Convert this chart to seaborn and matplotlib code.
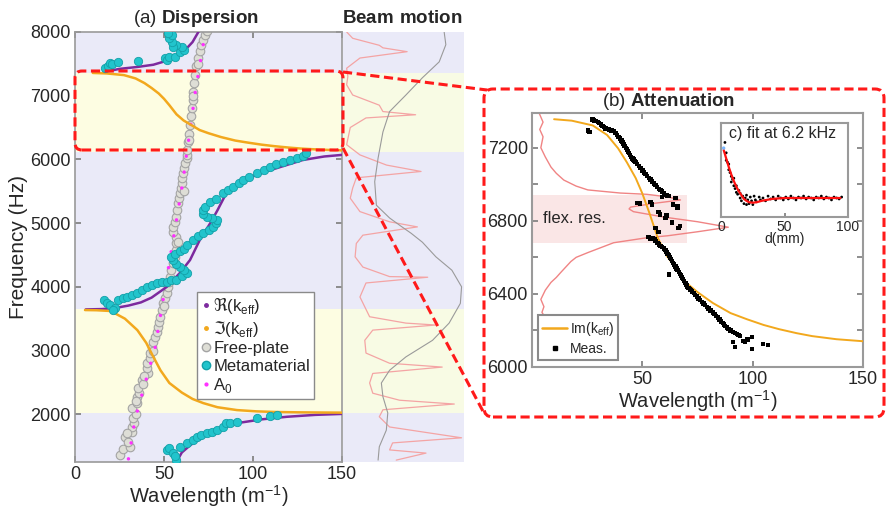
import matplotlib
matplotlib.use('Agg')
import matplotlib.pyplot as plt
from matplotlib.patches import FancyBboxPatch
from matplotlib.lines import Line2D
import seaborn as sns

######### data ########################################################################
# (a) dispersion: real part of k_eff (three branches)
re_lo_k = [57, 60, 65, 72, 80, 91, 105, 119, 135, 150]
re_lo_f = [1250, 1400, 1520, 1640, 1760, 1860, 1920, 1960, 1990, 2005]
re_mid_k = [6, 15, 22, 30, 37, 43, 51.6, 59, 64.6, 70, 76, 80, 85, 94.6, 109.6, 128, 140, 150]
re_mid_f = [3645, 3650, 3665, 3705, 3755, 3830, 4000, 4220, 4420, 4730, 5000, 5200, 5470, 5680, 5830, 5990, 6045, 6070]
re_hi_k = [16, 25, 35, 44, 53, 61, 66, 69, 70.5]
re_hi_f = [7370, 7420, 7450, 7485, 7560, 7690, 7840, 7985, 8060]

# imaginary part of k_eff (two band gaps)
im_lo_k = [5.6, 12, 20, 28, 35, 40, 44, 48, 53, 60, 66, 72, 80, 91, 102, 113, 125, 138, 150]
im_lo_f = [3635, 3632, 3620, 3500, 3320, 3120, 2900, 2690, 2490, 2340, 2240, 2175, 2110, 2065, 2045, 2035, 2030, 2027, 2025]
im_hi_k = [10, 18, 27.5, 34, 39, 43, 47, 50, 53, 57, 61, 65, 70, 75, 82, 90, 97.5, 105, 112, 120, 127, 138, 150]
im_hi_f = [7356, 7348, 7322, 7270, 7197, 7120, 7034, 6950, 6850, 6707, 6610, 6544, 6460, 6410,
           6350, 6295, 6261, 6230, 6207, 6185, 6169, 6152, 6141]

# A0 mode of the bare plate
a0_k = [30, 31.5, 33, 35, 37.5, 40, 42.5, 45, 46.5, 48, 49.5, 51, 52.5, 54, 55.5, 57, 58.5,
        60, 61.3, 62.5, 63.8, 65, 66.3, 67.5, 69, 70.5, 72]
a0_f = [1300, 1550, 1800, 2050, 2300, 2550, 2800, 3050, 3300, 3550, 3800, 4050, 4300, 4550,
        4800, 5050, 5300, 5550, 5800, 6050, 6300, 6550, 6800, 7050, 7300, 7550, 7800]

# measured free plate
fp_k = [25.3, 27, 31, 28, 30, 32, 32, 33, 32.6, 34, 32, 35, 35, 36, 35.5, 37.6, 38, 41, 40.4,
        40.4, 42, 42, 43, 44, 45, 46, 46.8, 47, 47.8, 48.9, 49.6, 50.5, 51.6, 52, 53, 53.4, 54,
        55, 56, 57, 56.5, 57, 55, 55, 56, 57, 57.5, 58, 58.5, 59, 59.5, 60, 60.3, 60.7, 61, 61.8,
        62.7, 62.7, 63, 63.5, 64, 64.6, 65, 65.7, 66, 66.3, 67, 67.4, 68, 69, 70, 71, 72, 73, 74,
        29, 34, 39, 44, 50, 58, 61, 64, 66, 69]
fp_f = [1360, 1450, 1490, 1640, 1560, 1720, 1800, 1870, 1940, 2000, 2090, 2180, 2270, 2340,
        2410, 2535, 2470, 2640, 2720, 2800, 2880, 2960, 3055, 3130, 3210, 3290, 3370, 3450,
        3530, 3635, 3745, 3820, 3900, 4000, 4080, 4150, 4260, 4370, 4470, 4580, 4680, 4780,
        4860, 4940, 5020, 5100, 5200, 5310, 5390, 5470, 5550, 5630, 5710, 5790, 5860, 5940,
        6020, 6070, 6150, 6270, 6400, 6540, 6680, 6810, 6930, 7060, 7200, 7330, 7460, 7590,
        7700, 7800, 7880, 7950, 8020,
        1700, 2200, 2600, 3000, 3700, 4700, 5500, 6300, 7000, 7500]

# measured metamaterial
mm_k = [51.6, 53, 55, 57, 56, 59, 62.7, 66, 68.5, 71, 74, 77, 80, 83, 85, 87, 91, 102, 109.6, 113.4,
        16, 18, 19.7, 22.5, 21.5, 24, 27, 29, 32, 34.8, 37.5, 40.4, 43, 46, 49, 51.6, 54, 57, 60,
        62.7, 61, 59, 57, 55, 54, 56, 59, 61, 63, 66, 69, 72, 75, 77.5, 79, 80, 77, 74, 72, 72,
        73, 76, 79, 83, 86, 88.8, 92, 94.6, 98, 102, 106, 109.6, 113, 117, 121, 124.7, 128, 130,
        16.9, 18.5, 19.7, 21, 24.4, 35.5, 50.6, 51.5, 53, 56, 59, 61, 60, 57, 55, 54.3, 53, 54.5, 52]
mm_f = [1440, 1470, 1390, 1280, 1350, 1490, 1550, 1600, 1640, 1670, 1700, 1720, 1750, 1800, 1860,
        1870, 1880, 1940, 1970, 1985,
        3790, 3740, 3710, 3665, 3635, 3800, 3820, 3840, 3870, 3900, 3950, 4000, 4030, 4060, 4070,
        4080, 4100, 4110, 4170, 4220, 4260, 4310, 4360, 4420, 4470, 4520, 4560, 4600, 4660, 4730,
        4790, 4840, 4890, 4940, 5000, 5050, 5080, 5100, 5150, 5200, 5260, 5330, 5380, 5470, 5520,
        5570, 5630, 5680, 5730, 5790, 5840, 5880, 5920, 5960, 5990, 6020, 6060, 6100,
        7435, 7460, 7510, 7490, 7530, 7545, 7590, 7560, 7610, 7610, 7690, 7720, 7760, 7800, 7765,
        7845, 7900, 7950, 7985]

# beam motion (normalised amplitude 0..1)
beam_grey_x = [0.836, 0.85, 0.795, 0.656, 0.52, 0.385, 0.33, 0.29, 0.262, 0.276, 0.385, 0.48,
               0.563, 0.656, 0.768, 0.9, 0.98, 0.97, 0.877, 0.74, 0.52, 0.385, 0.317, 0.33, 0.37,
               0.358, 0.3, 0.29]
beam_grey_f = [8000, 7800, 7530, 7280, 7010, 6750, 6430, 6020, 5650, 5280, 5080, 4950, 4840, 4700,
               4470, 4260, 4000, 3740, 3430, 3160, 2900, 2690, 2490, 2275, 2020, 1750, 1490, 1280]
beam_red_x = [0.03, 0.08, 0.3, 0.33, 0.53, 0.14, 0.03, 0.04, 0.03, 0.08, 0.3, 0.33, 0.6, 0.19,
              0.06, 0.03, 0.14, 0.36, 0.645, 0.11, 0.08, 0.06, 0.14, 0.385, 0.615, 0.164, 0.11,
              0.1, 0.164, 0.385, 0.7, 0.19, 0.14, 0.22, 0.52, 0.768, 0.246, 0.18, 0.19, 0.385,
              0.82, 0.246, 0.22, 0.246, 0.467, 0.92, 0.33, 0.3, 0.385, 0.98, 0.41, 0.385, 0.686,
              0.44]
beam_red_f = [8000, 7900, 7790, 7750, 7690, 7590, 7430, 7300, 7170, 7010, 6850, 6750, 6700, 6650,
              6500, 6230, 6070, 5910, 5810, 5710, 5550, 5390, 5180, 5020, 4940, 4810, 4680, 4470,
              4310, 4160, 4150, 4060, 3840, 3530, 3430, 3400, 3320, 3160, 2960, 2800, 2740, 2640,
              2490, 2330, 2220, 2160, 2070, 1960, 1800, 1630, 1550, 1440, 1390, 1280]

# (b) attenuation: measured points
meas_k = [25.3, 26, 27.5, 28.2, 29, 29.8, 30.5, 31.2, 32, 32.7, 33.4, 34.2, 35, 36, 37, 37.8, 38.5,
          39.2, 40, 40.5, 41, 41.5, 42, 42.5, 43, 43.5, 44, 44.5, 45, 45.5, 46, 46.5, 47, 47.7,
          48.5, 49.2, 50, 50.7, 51.5, 52.2, 53, 53.7, 54.5, 55.2, 56, 56.7, 57.5, 58.2, 59, 59.7,
          60.5, 61.3, 62,
          47.9, 49, 53.7, 54.5, 59, 65, 64, 57.3, 58, 60.5, 61, 63.6, 66.4, 67, 65.9, 66, 57.3,
          56, 52.8, 53.5, 54.6,
          55.5, 56, 56.8, 57.5, 58.2, 59, 59.8, 60.5, 61, 61.5, 62, 62.5, 63, 63.5, 64, 64.5, 65,
          65.5, 66, 66.5, 67, 67.5, 68, 68.5, 69, 69.5, 70, 70.4, 71, 71.5, 72, 72.6, 73.3, 74,
          74.8, 75.5, 76.2, 77, 77.8, 78.5, 79.2, 80, 81, 82, 82.8, 83.5, 84.2, 85, 85.8, 86.5,
          87, 87.6, 88.3, 89, 90, 91, 92, 93, 93.7, 94.4, 62,
          91, 92, 95.7, 97.5, 99.8, 99.8, 104.7, 107, 96.5, 98]
meas_f = [7295, 7285, 7355, 7350, 7345, 7340, 7335, 7328, 7320, 7313, 7306, 7303, 7300, 7295,
          7290, 7280, 7270, 7260, 7250, 7240, 7230, 7220, 7210, 7200, 7190, 7180, 7170, 7160,
          7150, 7142, 7135, 7128, 7121, 7110, 7100, 7088, 7075, 7065, 7055, 7045, 7034, 7025,
          7015, 7005, 6995, 6985, 6975, 6968, 6960, 6950, 6941, 6938, 6935,
          6898, 6895, 6903, 6890, 6930, 6925, 6890, 6849, 6835, 6816, 6830, 6790, 6760, 6770,
          6870, 6880, 6740, 6760, 6713, 6700, 6707,
          6700, 6690, 6680, 6670, 6662, 6655, 6648, 6640, 6630, 6620, 6610, 6600, 6590, 6580,
          6570, 6560, 6550, 6540, 6530, 6520, 6510, 6500, 6490, 6480, 6470, 6460, 6450, 6441,
          6433, 6425, 6420, 6414, 6405, 6395, 6385, 6375, 6365, 6355, 6347, 6338, 6329, 6320,
          6310, 6299, 6290, 6280, 6270, 6260, 6250, 6240, 6232, 6225, 6216, 6208, 6199, 6190,
          6185, 6180, 6174, 6168, 6506,
          6136, 6109, 6141, 6152, 6163, 6098, 6125, 6120, 6140, 6150]

# flexural resonance spectrum drawn in (b)
flex_x = [3.2, 5, 3.5, 5, 4, 6, 8.6, 11, 14.4, 20, 25.3, 40, 52, 61.4, 67.3, 55, 44.7, 44, 46, 60,
          75, 89, 75, 61.4, 52.4, 37, 25.3, 20, 17.6, 13, 11, 8.6, 6, 4, 5.4, 4.5, 5.5]
flex_f = [7390, 7340, 7300, 7260, 7200, 7150, 7094, 7060, 7023, 6990, 6969, 6952, 6945, 6931,
          6914, 6895, 6875, 6865, 6850, 6820, 6795, 6765, 6740, 6718, 6708, 6680, 6626, 6600,
          6577, 6517, 6490, 6463, 6420, 6370, 6330, 6299, 6280]

# (c) fit at 6.2 kHz
fit_d = [2, 4, 6, 8, 10, 12, 14, 16, 18, 20, 22, 25, 28, 32, 36, 40, 50, 60, 70, 80, 94]
fit_a = [0.71, 0.62, 0.53, 0.45, 0.38, 0.32, 0.27, 0.23, 0.19, 0.17, 0.155, 0.15, 0.155, 0.17,
         0.18, 0.19, 0.2, 0.2, 0.2, 0.2, 0.2]
pts_d = [3, 4, 4, 5, 6, 6, 7, 8, 8, 9, 10, 10, 11, 12, 12, 13, 14, 15, 15, 16, 17, 18, 19, 20, 20,
         21, 22, 23, 24, 25, 26, 27, 28, 30, 31, 33, 35, 37, 39, 41, 43, 45, 47, 49, 51, 53, 55,
         57, 59, 61, 63, 65, 67, 69, 71, 73, 75, 77, 79, 81, 83, 85, 87, 89, 91, 93, 95]
pts_a = [0.79, 0.68, 0.6, 0.58, 0.5, 0.56, 0.47, 0.43, 0.37, 0.4, 0.33, 0.41, 0.3, 0.26, 0.33,
         0.24, 0.28, 0.2, 0.25, 0.17, 0.22, 0.14, 0.2, 0.13, 0.23, 0.18, 0.14, 0.21, 0.17, 0.13,
         0.22, 0.18, 0.16, 0.21, 0.18, 0.2, 0.17, 0.22, 0.19, 0.21, 0.18, 0.22, 0.2, 0.18, 0.21,
         0.19, 0.22, 0.2, 0.18, 0.21, 0.2, 0.22, 0.19, 0.21, 0.2, 0.18, 0.21, 0.2, 0.22, 0.19,
         0.21, 0.2, 0.18, 0.21, 0.2, 0.19, 0.21]

# band gaps
gap_lo = (2020, 3650)
gap_hi = (6120, 7360)

######### styling ######################################################################
sns.set_theme(style='ticks')
plt.rcParams['font.family'] = ['Liberation Sans', 'DejaVu Sans']
plt.rcParams['mathtext.fontset'] = 'custom'
plt.rcParams['mathtext.rm'] = 'Liberation Sans'
plt.rcParams['mathtext.bf'] = 'Liberation Sans:bold'
plt.rcParams['mathtext.fallback'] = 'stixsans'
plt.rcParams['xtick.direction'] = 'in'
plt.rcParams['ytick.direction'] = 'in'

c_lav = '#eaeaf8'
c_yel = '#fdfde2'
c_orange = '#f2a81d'
c_purple = '#7d2a9e'
c_cyan = '#22c4cc'
c_red = '#ff1a1a'
c_frame = '#9a9a9a'

fig = plt.figure(figsize=(8.87, 5.09), dpi=100)

######### (a) Dispersion ###############################################################
ax_a = fig.add_axes([0.0846, 0.0923, 0.301, 0.845])
ax_a.set_facecolor(c_lav)
ax_a.axhspan(*gap_lo, color=c_yel, lw=0)
ax_a.axhspan(*gap_hi, color=c_yel, lw=0)

sns.scatterplot(x=fp_k, y=fp_f, s=38, color='#dedeD6', edgecolor='#a4a4a4', linewidth=0.8,
                ax=ax_a, zorder=2)
sns.scatterplot(x=a0_k, y=a0_f, s=6, color='#ff30ff', edgecolor='none', ax=ax_a, zorder=3)
for kk, ff in [(re_lo_k, re_lo_f), (re_mid_k, re_mid_f), (re_hi_k, re_hi_f)]:
    sns.lineplot(x=kk, y=ff, sort=False, estimator=None, color=c_purple, lw=1.8, ax=ax_a, zorder=3)
for kk, ff in [(im_lo_k, im_lo_f), (im_hi_k, im_hi_f)]:
    sns.lineplot(x=kk, y=ff, sort=False, estimator=None, color=c_orange, lw=1.8, ax=ax_a, zorder=3)
sns.scatterplot(x=mm_k, y=mm_f, s=36, color=c_cyan, edgecolor='#14a0a8', linewidth=0.6,
                ax=ax_a, zorder=4)

ax_a.set_xlim(0, 150)
ax_a.set_ylim(1250, 8000)
ax_a.set_xticks([0, 50, 100, 150])
ax_a.set_yticks([2000, 3000, 4000, 5000, 6000, 7000, 8000])
ax_a.tick_params(labelsize=13, top=True, right=True, length=4, color='#808080', pad=3)
ax_a.set_xlabel('Wavelength (m$^{-1}$)', fontsize=14.5, labelpad=0)
ax_a.set_ylabel('Frequency (Hz)', fontsize=15, labelpad=2)
for s in ax_a.spines.values():
    s.set_color(c_frame)
    s.set_linewidth(1.2)

handles = [
    Line2D([], [], ls='none', marker='.', ms=5, color=c_purple),
    Line2D([], [], ls='none', marker='.', ms=5, color=c_orange),
    Line2D([], [], ls='none', marker='o', ms=6, mfc='#dedeD6', mec='#a4a4a4'),
    Line2D([], [], ls='none', marker='o', ms=6, mfc=c_cyan, mec='#14a0a8'),
    Line2D([], [], ls='none', marker='.', ms=4, color='#ff30ff'),
]
labels = ['$\\Re$(k$_{\\rm eff}$)', '$\\Im$(k$_{\\rm eff}$)', 'Free-plate', 'Metamaterial', 'A$_0$']
leg = ax_a.legend(handles, labels, loc='upper left', bbox_to_anchor=(0.455, 0.395), fontsize=12,
                  handlelength=0.6, handletextpad=0.15, borderpad=0.25, labelspacing=0.15,
                  borderaxespad=0, fancybox=False, framealpha=1, edgecolor='#8a8a8a')
leg.get_frame().set_linewidth(1.0)

######### Beam motion ##################################################################
ax_m = fig.add_axes([0.3867, 0.0923, 0.1364, 0.845])
ax_m.set_facecolor(c_lav)
ax_m.axhspan(*gap_lo, color='#f8fbe4', lw=0)
ax_m.axhspan(*gap_hi, color='#f8fbe4', lw=0)
sns.lineplot(x=beam_red_x, y=beam_red_f, sort=False, estimator=None, color='#f4a4a4', lw=0.9,
             ax=ax_m)
sns.lineplot(x=beam_grey_x, y=beam_grey_f, sort=False, estimator=None, color='#9a9a9a', lw=0.8,
             ax=ax_m)
ax_m.set_xlim(0, 1)
ax_m.set_ylim(1250, 8000)
ax_m.set_xticks([])
ax_m.set_yticks([])
ax_m.set_xlabel('')
ax_m.set_ylabel('')
for s in ax_m.spines.values():
    s.set_visible(False)

fig.text(0.221, 0.963, '(a) $\\bf{Dispersion}$', fontsize=13.5, ha='center', va='center')
fig.text(0.453, 0.963, '$\\bf{Beam\\ motion}$', fontsize=13.5, ha='center', va='center')

######### (b) Attenuation ##############################################################
ax_b = fig.add_axes([0.5998, 0.279, 0.373, 0.499])
ax_b.set_facecolor('white')
ax_b.axhspan(6680, 6941, xmin=0, xmax=70.4 / 150, color='#fae6e6', lw=0, zorder=0)
sns.lineplot(x=flex_x, y=flex_f, sort=False, estimator=None, color='#f08484', lw=1.0, ax=ax_b,
             zorder=2)
sns.lineplot(x=im_hi_k, y=im_hi_f, sort=False, estimator=None, color=c_orange, lw=1.4, ax=ax_b,
             zorder=3)
sns.scatterplot(x=meas_k, y=meas_f, s=10, marker='s', color='black', edgecolor='none', ax=ax_b,
                zorder=4)
ax_b.text(5, 6810, 'flex. res.', fontsize=12, va='center', ha='left')
ax_b.set_xlim(0, 150)
ax_b.set_ylim(6000, 7390)
ax_b.set_xticks([0, 50, 100, 150])
ax_b.set_xticklabels(['', '50', '100', '150'])
ax_b.set_yticks([6000, 6200, 6400, 6600, 6800, 7000, 7200])
ax_b.set_yticklabels(['6000', '', '6400', '', '6800', '', '7200'])
ax_b.tick_params(labelsize=13, top=True, right=True, length=4, color='#808080', pad=3)
ax_b.set_xlabel('Wavelength (m$^{-1}$)', fontsize=14.5, labelpad=0)
ax_b.set_ylabel('')
for s in ax_b.spines.values():
    s.set_color(c_frame)
    s.set_linewidth(1.5)
hb = [Line2D([], [], color=c_orange, lw=1.8),
      Line2D([], [], ls='none', marker='s', ms=3, color='black')]
leg_b = ax_b.legend(hb, ['Im(k$_{\\rm eff}$)', 'Meas.'], loc='lower left',
                    bbox_to_anchor=(0.018, 0.028), fontsize=10, handlelength=1.8,
                    handletextpad=0.2, borderpad=0.3, labelspacing=0.3, borderaxespad=0,
                    fancybox=False, framealpha=1, edgecolor='#8a8a8a')
leg_b.get_frame().set_linewidth(1.5)

fig.text(0.754, 0.80, '(b) $\\bf{Attenuation}$', fontsize=13.5, ha='center', va='center')

######### (c) inset ####################################################################
ax_c = fig.add_axes([0.813, 0.574, 0.143, 0.185])
ax_c.set_facecolor('white')
sns.scatterplot(x=pts_d, y=pts_a, s=4, color='black', edgecolor='none', ax=ax_c, zorder=2)
sns.lineplot(x=fit_d, y=fit_a, sort=False, estimator=None, color='#ff1010', lw=1.6, ax=ax_c,
             zorder=3)
sns.scatterplot(x=[2], y=[0.73], s=6, color='#7ab8ff', edgecolor='none', ax=ax_c, zorder=4)
ax_c.text(0.48, 0.89, 'c) fit at 6.2 kHz', transform=ax_c.transAxes, fontsize=11.5,
          ha='center', va='center')
ax_c.set_xlim(0, 98)
ax_c.set_ylim(0, 1)
ax_c.set_xticks([0, 50, 100])
ax_c.set_yticks([])
ax_c.tick_params(labelsize=10, length=3, color='#808080', pad=2)
ax_c.set_xlabel('d(mm)', fontsize=10, labelpad=-1)
ax_c.set_ylabel('')
for s in ax_c.spines.values():
    s.set_color(c_frame)
    s.set_linewidth(1.5)

######### red dashed zoom markers (inches) #############################################
dash = (0, (3, 1.5))
box_a = FancyBboxPatch((0.75, 3.59), 2.68, 0.79, boxstyle='round,pad=0,rounding_size=0.07',
                       transform=fig.dpi_scale_trans, fill=False, edgecolor=c_red, lw=2.2,
                       ls=dash)
box_b = FancyBboxPatch((4.84, 0.92), 4.0, 3.28, boxstyle='round,pad=0,rounding_size=0.09',
                       transform=fig.dpi_scale_trans, fill=False, edgecolor=c_red, lw=2.2,
                       ls=dash)
fig.add_artist(box_a)
fig.add_artist(box_b)
fig.add_artist(Line2D([3.43, 4.87], [4.37, 4.19], transform=fig.dpi_scale_trans, color=c_red,
                      lw=2.2, ls=dash))
fig.add_artist(Line2D([3.43, 4.85], [3.61, 0.94], transform=fig.dpi_scale_trans, color=c_red,
                      lw=2.2, ls=dash))

fig.savefig('out.png', dpi=100)
